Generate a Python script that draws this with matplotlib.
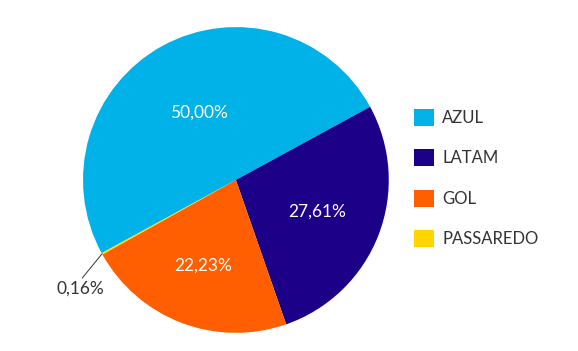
import numpy as np
import matplotlib
matplotlib.use('Agg')
import matplotlib.pyplot as plt

plt.rcParams['font.family'] = ['Lato', 'DejaVu Sans']

companies = ['AZUL', 'LATAM', 'GOL', 'PASSAREDO']
shares = [50.00, 27.61, 22.23, 0.16]
colors = ['#00b2e8', '#1c0088', '#ff5f00', '#ffd500']
pct_labels = ['50,00%', '27,61%', '22,23%', '0,16%']

fig = plt.figure(figsize=(5.78, 3.51), dpi=100)
ax = fig.add_axes([0.1436, 0.0513, 0.529, 0.872])

start = 28.6 + 360 * shares[0] / 100
wedges, _ = ax.pie(shares, colors=colors, startangle=start, counterclock=False,
                   wedgeprops=dict(linewidth=0))
ax.set_xlim(-1, 1)
ax.set_ylim(-1, 1)
ax.set_aspect('equal')

# labels inside the big slices
radii = [0.5, 0.57, 0.6]
for w, lab, r in zip(wedges[:3], pct_labels[:3], radii):
    mid = np.deg2rad((w.theta1 + w.theta2) / 2)
    ax.text(r * np.cos(mid), r * np.sin(mid), lab, ha='center', va='center',
            color='white', fontsize=12.5)

# small slice with leader line
w = wedges[3]
mid = np.deg2rad((w.theta1 + w.theta2) / 2)
ax.annotate(pct_labels[3], xy=(np.cos(mid), np.sin(mid)),
            xytext=(-1.02, -0.66), ha='center', va='top', fontsize=12.5, color='#333333',
            arrowprops=dict(arrowstyle='-', color='#333333', lw=0.7, shrinkA=0, shrinkB=0,
                            relpos=(0.5, 1.0)))

fig.legend(wedges, companies, loc='upper left', bbox_to_anchor=(0.716, 0.69),
           frameon=False, fontsize=12, handlelength=1.2, handleheight=1.2,
           labelspacing=1.4, handletextpad=0.5, borderpad=0, borderaxespad=0,
           labelcolor='#333333')

fig.savefig('out.png', dpi=100)
